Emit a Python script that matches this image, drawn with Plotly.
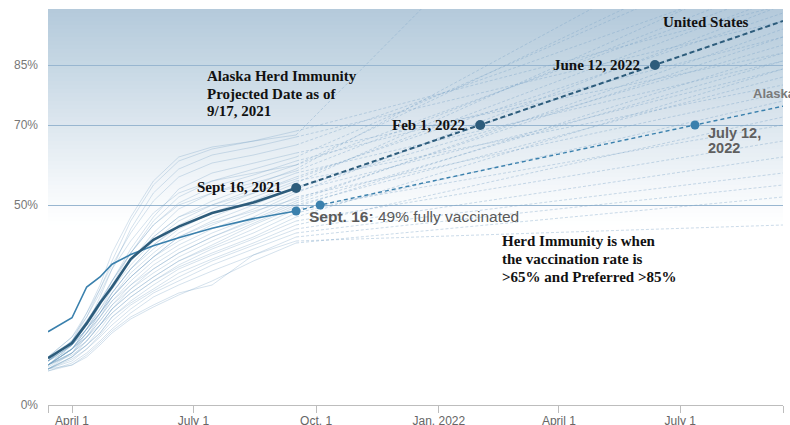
import plotly.graph_objects as go

# ---------------- data ----------------
hist_dates = ["2021-03-14", "2021-04-01", "2021-04-12", "2021-04-22", "2021-05-01",
              "2021-05-15", "2021-06-01", "2021-06-20", "2021-07-15", "2021-08-15",
              "2021-09-16"]
proj_end_date = "2022-09-16"

us_hist = [11.7, 15.5, 20.4, 25.5, 29.5, 36.5, 41.3, 44.6, 48.0, 50.6, 54.25]
us_proj_dates = ["2021-09-16", "2022-02-01", "2022-06-12", "2022-09-16"]
us_proj = [54.25, 70, 85, 96]
us_marker_dates = ["2021-09-16", "2022-02-01", "2022-06-12"]
us_marker_vals = [54.25, 70, 85]

ak_hist = [18.3, 21.8, 29.5, 32.0, 35.2, 37.6, 39.8, 41.8, 44.2, 46.6, 48.5]
ak_proj_dates = ["2021-09-16", "2021-10-04", "2022-07-12", "2022-09-16"]
ak_proj = [48.5, 50, 70, 74.7]
ak_marker_dates = ["2021-09-16", "2021-10-04", "2022-07-12"]
ak_marker_vals = [48.5, 50, 70]

# other states: 11 historical values + projected value on 2022-09-16
states_hist = [
    [11, 16, 22, 29, 36, 46, 55, 61, 64, 66, 68.5],
    [10, 15, 20, 27, 34, 44, 53, 59, 62.5, 64.5, 67],
    [12, 17, 23, 29, 35, 43, 51, 57, 60.5, 62.5, 65],
    [11, 15, 21, 26, 31, 39, 47, 54, 58, 60.5, 63],
    [10, 14, 19, 25, 30, 38, 46, 52, 56, 59, 62],
    [11, 16, 21, 26, 31, 38, 45, 50.5, 54.5, 57.5, 61],
    [10, 14, 19, 24, 29, 36, 43, 49, 53, 56.5, 60],
    [12, 16, 21, 26, 30, 36, 42, 47, 51, 55, 59],
    [11, 15, 20, 25, 29, 35, 41, 46, 50, 54, 58],
    [10, 14, 18, 23, 28, 34, 40, 45, 49, 53, 57],
    [11, 15, 19, 24, 28, 34, 39, 44, 48, 52, 56],
    [9.5, 13, 18, 22, 27, 33, 38, 43, 47, 51, 55.5],
    [10, 14, 18, 23, 27, 32, 37, 42, 46, 50, 54.5],
    [11, 15, 19, 23, 27, 32, 37, 41, 45, 49, 53.5],
    [10, 14, 17, 22, 26, 31, 36, 40, 44, 48, 53],
    [9, 13, 17, 21, 25, 30, 35, 39, 43, 47, 52],
    [10, 14, 18, 22, 26, 30, 34, 38, 42, 46.5, 51],
    [11, 14, 17, 21, 25, 29, 33, 37, 41, 45.5, 50],
    [9, 12, 16, 20, 24, 28, 32, 36, 40, 45, 49.5],
    [10, 13, 17, 20, 24, 28, 32, 36, 39.5, 44, 49],
    [9, 12, 15, 19, 23, 27, 31, 35, 39, 43, 48],
    [10, 13, 16, 20, 23, 27, 31, 34.5, 38, 42, 47],
    [9, 12, 15, 18, 22, 26, 30, 34, 37.5, 41.5, 46],
    [10, 12.5, 15, 18, 22, 25.5, 29, 33, 36.5, 40.5, 45],
    [9, 11.5, 14, 17.5, 21, 25, 28.5, 32, 36, 40, 44],
    [9, 11, 14, 17, 20, 24, 28, 31, 35, 39, 43],
    [8.5, 10.5, 13, 16, 19, 23, 27, 30, 33.5, 37.5, 42],
    [9, 10, 12.5, 15.5, 18.5, 22, 25, 28, 30, 37.5, 41],
    [8.5, 10, 12, 15, 18, 21.5, 24.5, 27.5, 31, 36, 40.5],
    [11, 16, 23, 30, 38, 47, 56, 62, 64.5, 66, 67.5],
    [12, 17, 22, 28, 34, 41, 48, 53, 56, 58, 60],
    [10, 15, 20, 25, 31, 38, 45, 50, 53, 55.5, 58.5],
    [11, 16, 20, 25, 30, 36, 42, 47, 50, 53, 56.5],
    [10, 14, 19, 23, 28, 34, 40, 44.5, 48, 51, 54],
    [12, 15, 19, 23, 27, 32, 37, 42, 45.5, 48.5, 51.5],
    [10, 13, 16, 20, 24, 29, 34, 38, 42, 46, 50.5],
]
states_proj_end = [100, 96, 108, 88, 115, 92, 104, 125, 86, 98, 80, 110, 90, 84,
                   100, 78, 94, 82, 88, 70, 76, 84, 66, 72, 62, 58, 55, 45, 52,
                   190, 118, 106, 102, 96, 92, 86]

y_tick_vals = [0, 50, 70, 85]
y_tick_text = ["0%", "50%", "70%", "85%"]
x_range = ["2021-03-14", "2022-09-16"]
x_tick_vals = ["2021-03-14", "2021-04-01", "2021-07-01", "2021-10-01",
               "2022-01-01", "2022-04-01", "2022-07-01", "2022-09-16"]
x_tick_text = ["", "April 1", "July 1", "Oct. 1", "Jan. 2022", "April 1", "July 1", ""]

# ---------------- styling ----------------
US_COLOR = "#2d5c7b"
AK_COLOR = "#3a80ad"
FAINT = "rgba(115,160,195,0.30)"
FAINT_DASH = "rgba(125,165,200,0.40)"
SERIF = "Liberation Serif, Times New Roman, serif"
SANS = "Liberation Sans, Arial, Helvetica, sans-serif"

fig = go.Figure()

for vals, end in zip(states_hist, states_proj_end):
    fig.add_trace(go.Scatter(x=hist_dates, y=vals, mode="lines",
                             line=dict(color=FAINT, width=1), showlegend=False))
    fig.add_trace(go.Scatter(x=[hist_dates[-1], proj_end_date], y=[vals[-1], end],
                             mode="lines",
                             line=dict(color=FAINT_DASH, width=1, dash="3px,2px"),
                             showlegend=False))

# Alaska
fig.add_trace(go.Scatter(x=hist_dates, y=ak_hist, mode="lines",
                         line=dict(color=AK_COLOR, width=1.6), showlegend=False))
fig.add_trace(go.Scatter(x=ak_proj_dates, y=ak_proj, mode="lines",
                         line=dict(color=AK_COLOR, width=1.4, dash="4px,3px"),
                         showlegend=False))
fig.add_trace(go.Scatter(x=ak_marker_dates, y=ak_marker_vals, mode="markers",
                         marker=dict(color=AK_COLOR, size=9), showlegend=False))

# United States
fig.add_trace(go.Scatter(x=hist_dates, y=us_hist, mode="lines",
                         line=dict(color=US_COLOR, width=2.6), showlegend=False))
fig.add_trace(go.Scatter(x=us_proj_dates, y=us_proj, mode="lines",
                         line=dict(color=US_COLOR, width=2, dash="5px,3px"),
                         showlegend=False))
fig.add_trace(go.Scatter(x=us_marker_dates, y=us_marker_vals, mode="markers",
                         marker=dict(color=US_COLOR, size=10), showlegend=False))

# background vertical gradient (drawn below the grid)
stops = [(0, (255, 255, 255)), (45, (255, 255, 255)), (55, (243, 247, 250)),
         (70, (221, 231, 239)), (85, (198, 215, 228)), (99, (180, 202, 219))]


def grad_color(v):
    for (a, ca), (b, cb) in zip(stops[:-1], stops[1:]):
        if a <= v <= b:
            t = (v - a) / (b - a) if b > a else 0
            c = [round(ca[i] + (cb[i] - ca[i]) * t) for i in range(3)]
            return f"rgb({c[0]},{c[1]},{c[2]})"
    return "white"


shapes = []
step = 1
lo = 44
while lo < 99:
    hi = min(lo + step, 99)
    shapes.append(dict(type="rect", xref="paper", yref="y", x0=0, x1=1, y0=lo, y1=hi + 0.05,
                       fillcolor=grad_color((lo + hi) / 2), line=dict(width=0), layer="below"))
    lo = hi

# ---------------- annotations ----------------
L, W, B, H = 48, 735, 405, 396


def px(xp):
    return (xp - L) / W


def py(yp):
    return (B - yp) / H


annos = []


def txt(text, x, y, anchor="left", size=15, family=SERIF, color="#111", bold=True):
    annos.append(dict(text=f"<b>{text}</b>" if bold else text, x=px(x), y=py(y),
                      xref="paper", yref="paper", xanchor=anchor, yanchor="middle",
                      showarrow=False, font=dict(family=family, size=size, color=color)))


txt("Alaska Herd Immunity", 205, 76)
txt("Projected Date as of", 205, 94)
txt("9/17, 2021", 205, 111)
txt("Sept 16, 2021", 284, 187, anchor="right")
txt("Feb 1, 2022", 467, 125, anchor="right")
txt("June 12, 2022", 642, 65, anchor="right")
txt("United States", 661, 22)
txt("Herd Immunity is when", 500, 241)
txt("the vaccination rate is", 500, 259)
txt("&gt;65% and Preferred &gt;85%", 500, 277)
txt("Alaska", 751, 93, size=13, family=SANS, color="#7a7a7a")
txt("July 12,", 706, 133, size=14.5, family=SANS, color="#5f5f5f")
txt("2022", 706, 148, size=14.5, family=SANS, color="#5f5f5f")
annos.append(dict(text="<b>Sept. 16:</b> 49% fully vaccinated", x=px(307), y=py(216),
                  xref="paper", yref="paper", xanchor="left", yanchor="middle",
                  showarrow=False, font=dict(family=SANS, size=15.5, color="#5a5a5a")))

fig.update_layout(
    width=790, height=425,
    margin=dict(l=L, r=790 - L - W, t=B - H, b=425 - B, autoexpand=False),
    paper_bgcolor="white", plot_bgcolor="white",
    hovermode=False, showlegend=False,
    shapes=shapes, annotations=annos,
    xaxis=dict(type="date", range=x_range, tickvals=x_tick_vals, ticktext=x_tick_text,
               ticks="outside", ticklen=7, tickcolor="#bdbdbd", showline=True,
               linecolor="#bdbdbd", linewidth=1, showgrid=False, zeroline=False,
               ticklabelstandoff=-2,
               tickfont=dict(family=SANS, size=12, color="#666"), fixedrange=True),
    yaxis=dict(range=[0, 99], tickvals=y_tick_vals, ticktext=y_tick_text,
               showgrid=True, gridcolor="#98b6d0", gridwidth=1, zeroline=False,
               showline=False, ticks="", ticklabelstandoff=9,
               tickfont=dict(family=SANS, size=12, color="#777"), fixedrange=True),
)

fig.write_html("out.html", config={"displayModeBar": False},
               post_script="document.body.style.margin='0';document.body.style.overflow='hidden';")
